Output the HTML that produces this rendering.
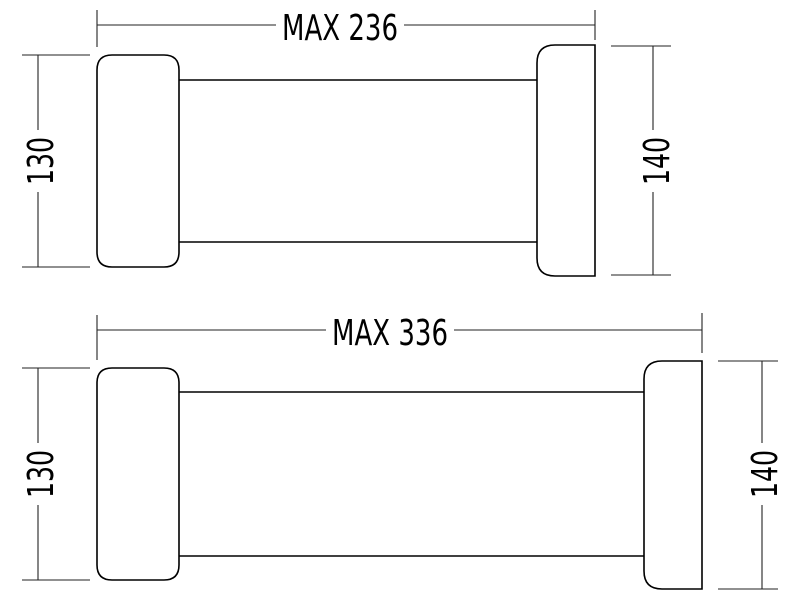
<!DOCTYPE html>
<html><head><style>
html,body{margin:0;padding:0;background:#fff;}
svg{display:block;}
text{font-family:"DejaVu Sans Condensed","DejaVu Sans","Liberation Sans",sans-serif;font-size:36px;fill:#000;}
</style></head><body>
<svg width="800" height="600" viewBox="0 0 800 600" xmlns="http://www.w3.org/2000/svg">
<g fill="none" stroke="#000" stroke-width="1.6">
<path d="M112 55 H164 Q179 55 179 70 V252 Q179 267 164 267 H112 Q97 267 97 252 V70 Q97 55 112 55 Z"/>
<line x1="179" y1="80" x2="537" y2="80"/>
<line x1="179" y1="242" x2="537" y2="242"/>
<path d="M595 45 V276 H555 Q537 276 537 258 V63 Q537 45 555 45 Z"/>
<path d="M112 368 H164 Q179 368 179 383 V565 Q179 580 164 580 H112 Q97 580 97 565 V383 Q97 368 112 368 Z"/>
<line x1="179" y1="392" x2="644" y2="392"/>
<line x1="179" y1="556" x2="644" y2="556"/>
<path d="M702 361 V589 H662 Q644 589 644 571 V379 Q644 361 662 361 Z"/>
</g>
<g fill="none" stroke="#222" stroke-width="1.1">
<line x1="97" y1="10" x2="97" y2="47"/>
<line x1="595" y1="10" x2="595" y2="40"/>
<line x1="97" y1="25" x2="276" y2="25"/>
<line x1="404" y1="25" x2="595" y2="25"/>
<line x1="22" y1="55" x2="90" y2="55"/>
<line x1="22" y1="267" x2="90" y2="267"/>
<line x1="38" y1="55" x2="38" y2="130"/>
<line x1="38" y1="192" x2="38" y2="267"/>
<line x1="611" y1="46" x2="671" y2="46"/>
<line x1="611" y1="275" x2="671" y2="275"/>
<line x1="653" y1="46" x2="653" y2="130"/>
<line x1="653" y1="192" x2="653" y2="275"/>
<line x1="97" y1="315" x2="97" y2="360"/>
<line x1="702" y1="313" x2="702" y2="353"/>
<line x1="97" y1="330" x2="326" y2="330"/>
<line x1="454" y1="330" x2="702" y2="330"/>
<line x1="22" y1="368" x2="90" y2="368"/>
<line x1="22" y1="580" x2="90" y2="580"/>
<line x1="38" y1="368" x2="38" y2="443"/>
<line x1="38" y1="505" x2="38" y2="580"/>
<line x1="718" y1="361" x2="778" y2="361"/>
<line x1="718" y1="589" x2="778" y2="589"/>
<line x1="762" y1="361" x2="762" y2="443"/>
<line x1="762" y1="505" x2="762" y2="589"/>
</g>
<text x="340" y="40" text-anchor="middle" textLength="116" lengthAdjust="spacingAndGlyphs">MAX 236</text>
<text x="390" y="345" text-anchor="middle" textLength="116" lengthAdjust="spacingAndGlyphs">MAX 336</text>
<text transform="translate(53,161) rotate(-90)" text-anchor="middle" textLength="48" lengthAdjust="spacingAndGlyphs">130</text>
<text transform="translate(669,161) rotate(-90)" text-anchor="middle" textLength="48" lengthAdjust="spacingAndGlyphs">140</text>
<text transform="translate(53,474) rotate(-90)" text-anchor="middle" textLength="48" lengthAdjust="spacingAndGlyphs">130</text>
<text transform="translate(777,474) rotate(-90)" text-anchor="middle" textLength="48" lengthAdjust="spacingAndGlyphs">140</text>
</svg>
</body></html>
